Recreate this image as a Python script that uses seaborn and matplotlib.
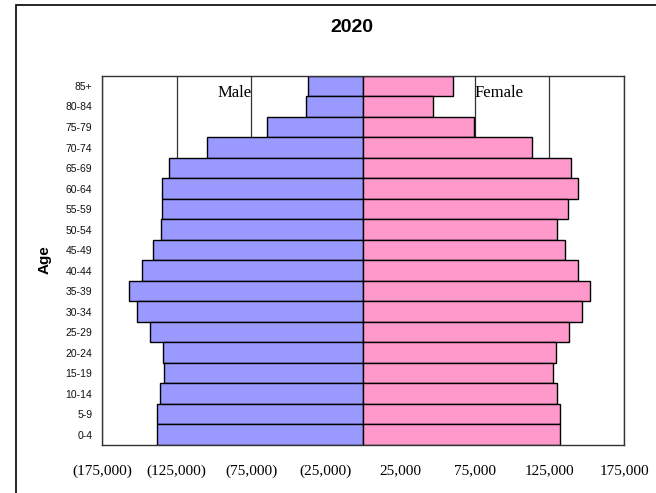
import numpy as np
import pandas as pd
import matplotlib
matplotlib.use('Agg')
import matplotlib.pyplot as plt
import seaborn as sns
from matplotlib.ticker import FuncFormatter
from matplotlib.patches import Rectangle

# --- data (youngest group first) ---
ages = ['0-4', '5-9', '10-14', '15-19', '20-24', '25-29', '30-34', '35-39', '40-44',
        '45-49', '50-54', '55-59', '60-64', '65-69', '70-74', '75-79', '80-84', '85+']
male = [138300, 138300, 135900, 133200, 134100, 142600, 151800, 156900, 148100,
        141000, 135200, 135000, 135000, 129800, 104500, 64300, 38100, 37000]
female = [131800, 131800, 130000, 127600, 129400, 137900, 146800, 152000, 144400,
          135400, 130300, 137200, 144400, 139700, 113500, 74400, 46600, 60300]
xticks = [-175000, -125000, -75000, -25000, 25000, 75000, 125000, 175000]

df = pd.DataFrame({'age': ages, 'male': male, 'female': female})
df['male_neg'] = -df['male']
order = ages[::-1]

sns.set_style('white')
plt.rcParams['font.family'] = ['Liberation Sans', 'DejaVu Sans']
plt.rcParams['text.color'] = 'black'
plt.rcParams['xtick.color'] = 'black'
plt.rcParams['ytick.color'] = 'black'

fig = plt.figure(figsize=(6.56, 4.93), dpi=100)
ax = fig.add_axes([102 / 656, 1 - 445 / 493, 522 / 656, 369.3 / 493])

sns.barplot(data=df, x='male_neg', y='age', order=order, orient='h', color='#9999FF',
            edgecolor='black', linewidth=1, width=1.0, saturation=1, ax=ax, zorder=2)
sns.barplot(data=df, x='female', y='age', order=order, orient='h', color='#FF99CC',
            edgecolor='black', linewidth=1, width=1.0, saturation=1, ax=ax, zorder=2)

ax.set_xlim(-175000, 175000)
ax.set_ylim(len(ages) - 0.5, -0.5)
ax.set_xticks(xticks)
ax.xaxis.set_major_formatter(FuncFormatter(
    lambda v, p: f'({abs(v):,.0f})' if v < 0 else f'{v:,.0f}'))
for lab in ax.get_xticklabels():
    lab.set_family('Liberation Serif')
    lab.set_fontsize(11)
ax.tick_params(axis='x', direction='out', length=4, width=1, color='#333333',
               labelcolor='black', pad=10)
ax.tick_params(axis='y', length=0, pad=7, labelsize=7.5, labelcolor='#111111')

# vertical gridlines at the ticks, behind the bars
for xv in xticks:
    ax.axvline(xv, color='#333333', lw=0.9, zorder=0)

for sp in ax.spines.values():
    sp.set_visible(True)
    sp.set_color('#333333')
    sp.set_linewidth(1)

ax.set_xlabel('')
ax.set_ylabel('')

ax.text(-75000, 0.35, 'Male', ha='right', va='center', fontsize=12,
        family='Liberation Serif', color='black', zorder=3)
ax.text(75000, 0.35, 'Female', ha='left', va='center', fontsize=12,
        family='Liberation Serif', color='black', zorder=3)

fig.text(352 / 656, 1 - 28 / 493, '2020', ha='center', va='center',
         fontsize=14, fontweight='bold', color='black')
fig.text(45 / 656, 1 - 260 / 493, 'Age', ha='center', va='center', rotation=90,
         fontsize=11, fontweight='bold', color='black')

# outer chart frame (runs off the right and bottom edges)
fig.patches.append(Rectangle((16 / 656, -0.1), 1.2, 1.1 - 5 / 493,
                             transform=fig.transFigure, fill=False,
                             edgecolor='black', lw=1.2))

fig.savefig('out.png', dpi=100)
